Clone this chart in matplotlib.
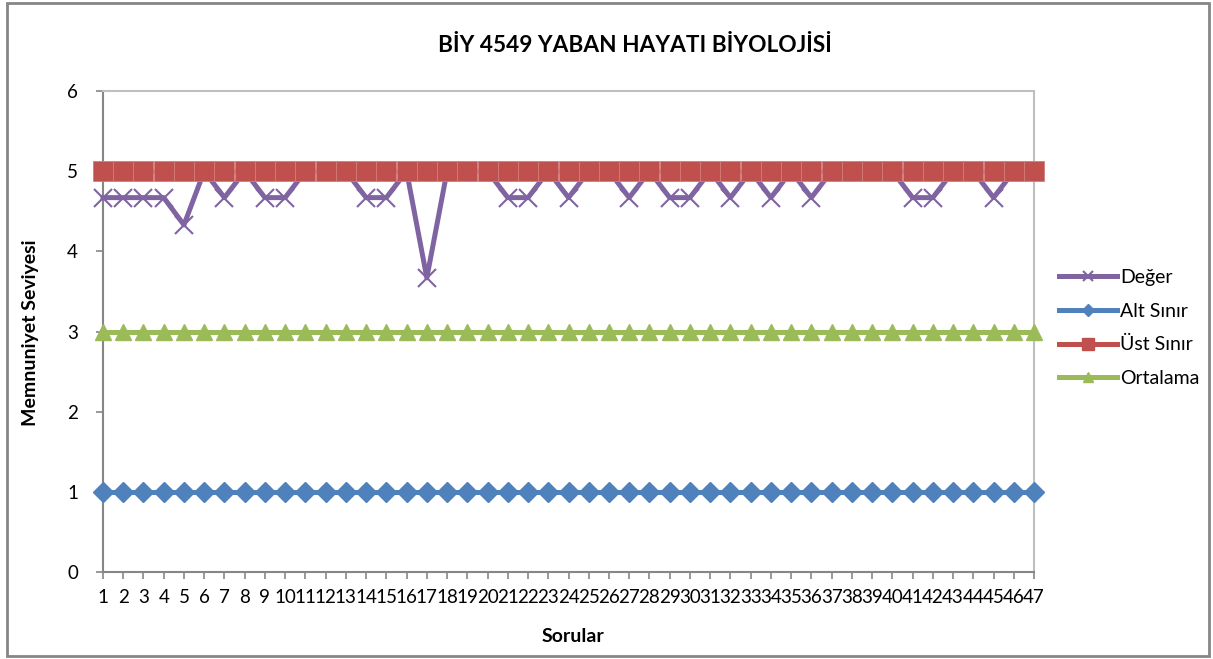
import matplotlib
matplotlib.use("Agg")
import matplotlib.pyplot as plt
from matplotlib.patches import Rectangle
from matplotlib.lines import Line2D

plt.rcParams['font.family'] = ['Lato', 'DejaVu Sans']

# Survey questions and satisfaction levels
questions = list(range(1, 48))
deger = [4.67, 4.67, 4.67, 4.67, 4.33, 5, 4.67, 5, 4.67, 4.67,
         5, 5, 5, 4.67, 4.67, 5, 3.67, 5, 5, 5,
         4.67, 4.67, 5, 4.67, 5, 5, 4.67, 5, 4.67, 4.67,
         5, 4.67, 5, 4.67, 5, 4.67, 5, 5, 5, 5,
         4.67, 4.67, 5, 5, 4.67, 5, 5]
alt_sinir = [1] * 47
ust_sinir = [5] * 47
ortalama = [3] * 47

series_names = ["Değer", "Alt Sınır", "Üst Sınır", "Ortalama"]
title = "BİY 4549 YABAN HAYATI BİYOLOJİSİ"
xlabel = "Sorular"
ylabel = "Memnuniyet Seviyesi"

W, H = 1213, 659
fig = plt.figure(figsize=(W / 100, H / 100), dpi=100)
ax = fig.add_axes([103 / W, 1 - 572 / H, (1034 - 103) / W, (572 - 91) / H])

purple, blue, red, green = "#8064A2", "#4F81BD", "#C0504D", "#9BBB59"

ax.plot(questions, deger, color=purple, lw=3.6, marker="x", ms=13, mew=1.5,
        clip_on=False, zorder=3, label=series_names[0])
ax.plot(questions, alt_sinir, color=blue, lw=3.6, marker="D", ms=10,
        clip_on=False, zorder=4, label=series_names[1])
ax.plot(questions, ust_sinir, color=red, lw=3.6, marker="s", ms=14,
        mec="#D27C7A", mew=0.6, clip_on=False, zorder=5,
        label=series_names[2])
ax.plot(questions, ortalama, color=green, lw=3.6, marker="^", ms=11,
        clip_on=False, zorder=6, label=series_names[3])

ax.set_xlim(1, 47)
ax.set_ylim(0, 6)
ax.set_xticks(questions)
ax.set_xticklabels([str(q) for q in questions])
ax.set_yticks(range(0, 7))

for side in ("top", "right"):
    ax.spines[side].set_color("#BFBFBF")
    ax.spines[side].set_linewidth(1.5)
for side in ("left", "bottom"):
    ax.spines[side].set_color("#868686")
    ax.spines[side].set_linewidth(1.5)

ax.tick_params(axis="x", length=5, width=1.2, color="#868686", pad=7,
               labelsize=13.5, labelcolor="black")
ax.tick_params(axis="y", length=5, width=1.2, color="#868686", pad=13,
               labelsize=13.5, labelcolor="black")

fig.text(635 / W, 1 - 45 / H, title, ha="center", va="center",
         fontsize=16.3, fontweight="bold")
fig.text(573 / W, 1 - 637 / H, xlabel, ha="center", va="center",
         fontsize=14, fontweight="bold")
fig.text(31 / W, 1 - 333 / H, ylabel, ha="center", va="center",
         rotation=90, fontsize=14, fontweight="bold")

handles = [
    Line2D([], [], color=purple, lw=3.6, marker="x", ms=7, mew=1.5),
    Line2D([], [], color=blue, lw=3.6, marker="D", ms=6),
    Line2D([], [], color=red, lw=3.6, marker="s", ms=9),
    Line2D([], [], color=green, lw=3.6, marker="^", ms=7),
]
fig.legend(handles, series_names, loc="center left",
           bbox_to_anchor=(1059 / W, 1 - 328 / H), frameon=False,
           fontsize=14, handlelength=3.0, handletextpad=0.15,
           labelspacing=0.85, borderaxespad=0, borderpad=0)

fig.add_artist(Rectangle((7 / W, 1 - 656 / H), (1209 - 7) / W, (656 - 3) / H,
                         transform=fig.transFigure, fill=False,
                         edgecolor="#868686", lw=2))

fig.savefig("out.png", dpi=100)
